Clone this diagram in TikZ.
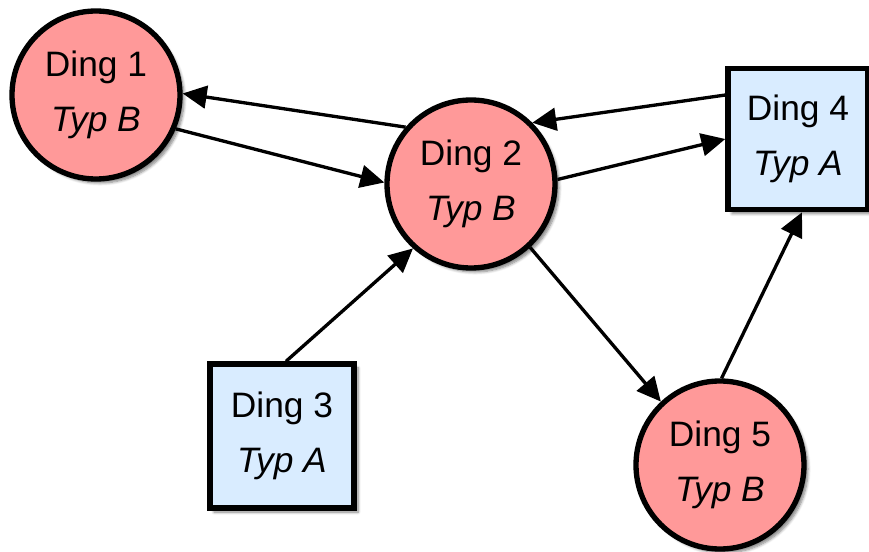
\documentclass[tikz,border=0pt]{standalone}
\usepackage{fontspec}
\setmainfont{Liberation Sans}
\usepackage{tikz}
\usepackage{xcolor}
\usetikzlibrary{arrows.meta,shadows.blur}

\definecolor{typb}{RGB}{255,153,153}
\definecolor{typa}{RGB}{217,236,255}

\begin{document}
\begin{tikzpicture}[x=0.75pt,y=0.75pt,
        ding/.style={draw=black,line width=4pt,align=center,
            font=\fontsize{26.5}{41}\selectfont,inner sep=0pt,
            blur shadow={shadow xshift=3pt,shadow yshift=-3pt,
                shadow blur steps=6,shadow opacity=50}},
        dingb/.style={ding,circle,fill=typb,minimum size=126pt},
        dinga/.style={ding,rectangle,fill=typa},
        pfeil/.style={line width=2.5pt,-{Triangle[length=18pt,width=17pt]}}]
        \useasboundingbox (0,0) rectangle (869,551);

        % things
        \node[dingb] (d1) at (96,456) {Ding 1\\\textit{Typ B}};
        \node[dingb] (d2) at (471,367) {Ding 2\\\textit{Typ B}};
        \node[dinga,minimum width=105pt,minimum height=106pt] (d4) at (798,412) {Ding 4\\\textit{Typ A}};
        \node[dinga,minimum width=108pt,minimum height=108pt] (d3) at (282,115) {Ding 3\\\textit{Typ A}};
        \node[dingb] (d5) at (720,86) {Ding 5\\\textit{Typ B}};

        % links
        \draw[pfeil] (d2.139) -- (d1.1);
        \draw[pfeil] (d1.-23) -- (d2.179);
        \draw[pfeil] ([yshift=33pt]d4.west) -- (d2.45);
        \draw[pfeil] (d2.3) -- (d4.west);
        \draw[pfeil] ([xshift=3pt]d3.north) -- (d2.228);
        \draw[pfeil] (d2.-47) -- (d5.133);
        \draw[pfeil] (d5.89) -- ([xshift=3pt]d4.south);
\end{tikzpicture}
\end{document}
